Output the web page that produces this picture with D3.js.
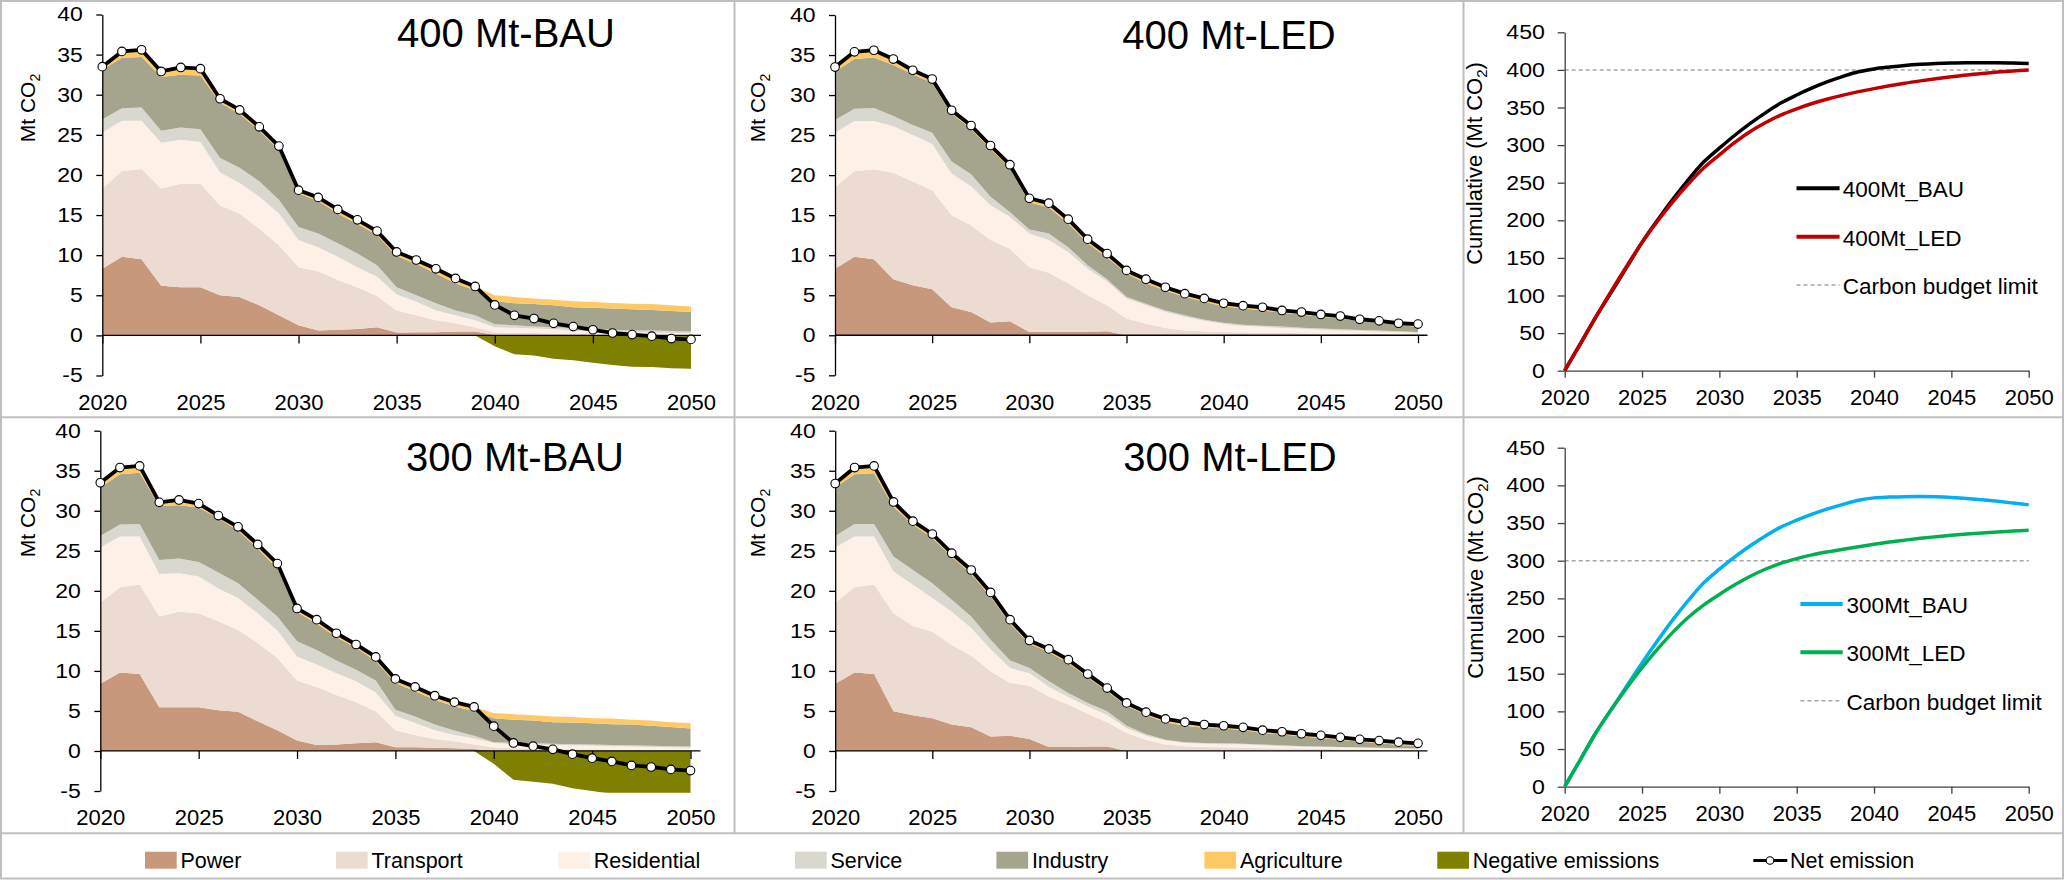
<!DOCTYPE html>
<html><head><meta charset="utf-8">
<script src="https://cdn.jsdelivr.net/npm/d3@7"></script>
<style>
body{margin:0;background:#fff}
svg{display:block;font-family:"Liberation Sans",Arial,sans-serif}
</style></head>
<body><svg id="c" width="2064" height="880"></svg>
<script>
// ---------------- data ----------------
const years = [2020,2021,2022,2023,2024,2025,2026,2027,2028,2029,2030,2031,2032,2033,2034,2035,2036,2037,2038,2039,2040,2041,2042,2043,2044,2045,2046,2047,2048,2049,2050];
const xTickYears = [2020,2025,2030,2035,2040,2045,2050];
const leftYTicks = [-5,0,5,10,15,20,25,30,35,40];
const rightYTicks = [0,50,100,150,200,250,300,350,400,450];
const sectors = ["Power","Transport","Residential","Service","Industry","Agriculture"];
const legendLabels = ["Power","Transport","Residential","Service","Industry","Agriculture","Negative emissions","Net emission"];
const panelTitles = ["400 Mt-BAU","400 Mt-LED","300 Mt-BAU","300 Mt-LED"];
const cumLabels = ["400Mt_BAU","400Mt_LED","300Mt_BAU","300Mt_LED"];
const budgetLabel = "Carbon budget limit";
const budgets = [400,300];

const bau400Power = [8.3,9.8,9.5,6.2,6.0, 6.0,5.0,4.8,3.75,2.5, 1.25,0.6,0.7,0.8,1.0, 0.35,0.4,0.4,0.5,0.5, 0.05,0,0,0,0, 0,0,0,0,0, 0];
const bau400Transport = [10.0,10.7,11.25,12.1,12.9, 12.9,11.2,10.4,9.55,8.75, 7.25,7.4,6.2,5.2,3.9, 2.75,2.1,1.5,1.0,0.5, 0.35,0.3,0.3,0.25,0.2, 0.15,0.1,0.1,0.05,0.05, 0.05];
const bau400Residential = [7.0,6.25,6.0,5.7,5.5, 5.2,4.1,3.8,4.0,3.95, 3.4,3.0,2.9,2.5,2.4, 2.0,1.7,1.2,1.0,0.9, 0.6,0.65,0.55,0.5,0.4, 0.35,0.35,0.3,0.3,0.25, 0.25];
const bau400Service = [1.6,1.55,1.65,1.5,1.5, 1.6,1.8,1.9,1.9,1.7, 1.6,1.7,1.7,1.7,1.45, 0.9,0.8,0.9,0.6,0.6, 0.4,0.3,0.25,0.25,0.3, 0.3,0.25,0.2,0.25,0.25, 0.2];
const bau400Industry = [6.2,6.3,6.3,6.7,6.6, 6.7,6.9,6.7,6.3,6.2, 4.2,4.05,3.7,3.7,3.75, 3.9,3.9,3.7,3.4,3.1, 2.85,2.75,2.8,2.75,2.6, 2.65,2.65,2.65,2.55,2.5, 2.4];
const bau400Agriculture = [0.4,0.8,0.9,0.7,0.9, 0.85,0.5,0.5,0.5,0.5, 0.4,0.45,0.5,0.5,0.5, 0.5,0.5,0.6,0.6,0.5, 0.75,0.8,0.7,0.7,0.75, 0.7,0.7,0.7,0.75,0.7, 0.7];
const bau400Negative = [0,0,0,0,0, 0,0,0,0,0, 0,0,0,0,0, 0,0,0,0,0, -1.35,-2.35,-2.5,-2.9,-3.1, -3.4,-3.7,-3.9,-3.95,-4.1, -4.15];
const bau400Net = [33.5,35.4,35.6,32.9,33.4, 33.25,29.5,28.1,26.0,23.6, 18.1,17.2,15.7,14.4,13.0, 10.4,9.4,8.3,7.1,6.1, 3.8,2.5,2.1,1.5,1.1, 0.7,0.3,0.1,-0.1,-0.4, -0.5];

const led400Power = [8.3,9.8,9.5,7.0,6.25, 5.75,3.5,2.9,1.6,1.75, 0.4,0.4,0.4,0.45,0.5, 0,0,0,0,0, 0,0,0,0,0, 0,0,0,0,0, 0];
const led400Transport = [10.2,10.7,11.25,13.3,12.95, 12.35,11.5,10.85,10.3,9.05, 8.1,7.4,6.1,4.55,3.25, 2.1,1.45,0.9,0.6,0.5, 0.4,0.35,0.3,0.3,0.25, 0.2,0.2,0.15,0.15,0.1, 0.1];
const led400Residential = [6.8,6.25,6.0,5.8,5.8, 5.8,5.2,4.85,4.35,4.0, 4.2,4.1,3.9,3.3,2.95, 2.5,2.3,2.0,1.7,1.3, 1.0,0.8,0.75,0.6,0.55, 0.5,0.4,0.4,0.3,0.3, 0.2];
const led400Service = [1.6,1.55,1.65,1.3,1.25, 1.4,1.5,1.5,1.05,0.6, 0.5,0.8,0.6,0.45,0.3, 0.2,0.2,0.2,0.2,0.15, 0.15,0.15,0.15,0.2,0.15, 0.15,0.15,0.1,0.15,0.1, 0.1];
const led400Industry = [6.0,6.2,6.3,6.35,6.35, 6.2,6.0,5.7,5.95,5.5, 3.4,3.25,2.95,2.75,2.7, 2.9,2.55,2.5,2.3,2.25, 2.05,2.05,1.9,1.7,1.65, 1.45,1.35,1.15,0.95,0.75, 0.65];
const led400Agriculture = [0.6,0.9,0.9,0.75,0.5, 0.5,0.4,0.4,0.45,0.4, 0.5,0.55,0.55,0.5,0.5, 0.4,0.45,0.4,0.4,0.4, 0.4,0.35,0.4,0.3,0.3, 0.3,0.3,0.25,0.25,0.25, 0.3];
const led400Negative = [0,0,0,0,0, 0,0,0,0,0, 0,0,0,0,0, 0,0,0,0,0, 0,0,0,0,0, 0,0,0,0,0, 0];
const led400Net = [33.5,35.4,35.6,34.5,33.1, 32.0,28.1,26.2,23.7,21.3, 17.1,16.5,14.5,12.0,10.2, 8.1,7.0,6.0,5.2,4.6, 4.0,3.7,3.5,3.1,2.9, 2.6,2.4,2.0,1.8,1.5, 1.4];

const bau300Power = [8.4,9.8,9.6,5.45,5.45, 5.45,5.1,4.9,3.7,2.6, 1.3,0.75,0.8,0.95,1.1, 0.45,0.45,0.4,0.35,0.25, 0,0,0,0,0, 0,0,0,0,0, 0];
const bau300Transport = [10.15,10.65,11.2,11.35,11.95, 11.75,11.1,10.2,9.8,9.0, 7.5,7.25,6.2,5.15,3.85, 2.15,1.55,1.1,0.85,0.55, 0.45,0.35,0.3,0.25,0.2, 0.2,0.15,0.15,0.1,0.1, 0.05];
const bau300Residential = [6.85,6.35,6.0,5.3,4.8, 4.6,4.1,4.0,3.7,3.45, 3.0,2.8,2.7,2.6,2.35, 1.8,1.5,1.1,0.8,0.75, 0.55,0.5,0.5,0.5,0.5, 0.45,0.45,0.4,0.4,0.35, 0.35];
const bau300Service = [1.45,1.5,1.55,1.75,1.85, 1.8,2.0,1.85,1.7,1.75, 1.9,1.8,1.6,1.45,1.5, 0.75,0.8,0.7,0.55,0.35, 0.1,0.15,0.15,0.15,0.15, 0.15,0.15,0.15,0.15,0.15, 0.15];
const bau300Industry = [6.05,6.25,6.4,6.75,6.65, 6.8,6.75,6.55,6.4,6.0, 3.65,3.3,2.9,2.75,2.45, 3.35,3.15,3.1,3.0,3.1, 3.0,2.9,2.85,2.7,2.7, 2.65,2.6,2.6,2.5,2.4, 2.25];
const bau300Agriculture = [0.6,0.85,0.85,0.45,0.65, 0.5,0.35,0.5,0.5,0.6, 0.45,0.5,0.5,0.4,0.5, 0.5,0.55,0.5,0.55,0.5, 0.65,0.7,0.65,0.7,0.7, 0.65,0.7,0.6,0.65,0.6, 0.7];
const bau300Negative = [0,0,0,0,0, 0,0,0,0,0, 0,0,0,0,0, 0,0,0,0,0, -1.6,-3.6,-3.85,-4.1,-4.65, -5.0,-5.35,-5.7,-5.8,-5.9, -5.95];
const bau300Net = [33.5,35.4,35.6,31.05,31.35, 30.9,29.4,28.0,25.8,23.4, 17.8,16.4,14.7,13.3,11.75, 9.0,8.0,6.9,6.1,5.5, 3.1,1.0,0.6,0.2,-0.4, -0.9,-1.3,-1.8,-2.0,-2.3, -2.45];

const led300Power = [8.4,9.8,9.6,4.95,4.45, 4.1,3.3,2.95,1.8,1.9, 1.5,0.5,0.5,0.55,0.55, 0,0,0,0,0, 0,0,0,0,0, 0,0,0,0,0, 0];
const led300Transport = [10.15,10.65,11.2,12.25,11.15, 10.8,9.95,8.95,8.15,6.6, 6.65,6.3,5.3,4.1,3.05, 2.25,1.4,0.8,0.6,0.5, 0.45,0.4,0.35,0.3,0.3, 0.25,0.2,0.2,0.15,0.1, 0.1];
const led300Residential = [6.85,6.35,6.0,5.2,5.15, 4.2,4.15,3.45,2.75,1.85, 1.55,1.2,0.95,0.9,0.9, 0.6,0.5,0.5,0.4,0.4, 0.4,0.4,0.35,0.3,0.25, 0.25,0.25,0.2,0.2,0.2, 0.2];
const led300Service = [1.45,1.55,1.55,1.9,1.85, 1.85,1.5,1.45,1.2,0.95, 0.65,0.7,0.5,0.45,0.45, 0.3,0.2,0.1,0.1,0.1, 0.1,0.1,0.1,0.1,0.05, 0.05,0.05,0.05,0.05,0.05, 0];
const led300Industry = [6.05,6.2,6.35,6.2,5.65, 5.65,5.4,5.3,5.4,4.6, 3.05,3.65,3.75,3.2,2.5, 2.5,2.4,2.2,2.05,1.9, 1.85,1.7,1.45,1.35,1.25, 1.05,0.9,0.7,0.6,0.4, 0.3];
const led300Agriculture = [0.5,0.85,0.9,0.6,0.45, 0.5,0.4,0.5,0.5,0.5, 0.4,0.4,0.4,0.4,0.4, 0.35,0.35,0.4,0.45,0.4, 0.35,0.35,0.35,0.35,0.3, 0.35,0.3,0.3,0.3,0.35, 0.35];
const led300Negative = [0,0,0,0,0, 0,0,0,0,0, 0,0,0,0,0, 0,0,0,0,0, 0,0,0,0,0, 0,0,0,0,0, 0];
const led300Net = [33.4,35.4,35.6,31.1,28.7, 27.1,24.7,22.6,19.8,16.4, 13.8,12.75,11.4,9.6,7.85, 6.0,4.85,4.0,3.6,3.3, 3.15,2.95,2.6,2.4,2.15, 1.95,1.7,1.45,1.3,1.1, 0.95];

const cumBau400 = [0,35.4,71.0,103.9,137.3, 170.6,200.1,228.2,254.2,277.8, 295.9,313.1,328.8,343.2,356.2, 366.6,376.0,384.3,391.4,397.5, 401.3,403.8,405.9,407.4,408.5, 409.2,409.5,409.6,409.5,409.1, 408.6];
const cumLed400 = [0,35.4,71.0,105.5,138.6, 170.6,198.7,224.9,248.6,269.9, 287.0,303.5,318.0,330.0,340.2, 348.3,355.3,361.3,366.5,371.1, 375.1,378.8,382.3,385.4,388.3, 390.9,393.3,395.3,397.1,398.6, 400.0];
const cumBau300 = [0,35.4,71.0,102.1,133.4, 164.3,193.7,221.7,247.5,270.9, 288.7,305.1,319.8,333.1,344.9, 353.8,361.8,368.7,374.8,380.3, 383.4,384.4,385.0,385.2,384.8, 383.9,382.6,380.8,378.8,376.5, 374.1];
const cumLed300 = [0,35.4,71.0,102.1,130.8, 157.9,182.6,205.2,225.0,241.4, 255.2,268.0,279.4,289.0,296.8, 302.8,307.7,311.7,315.3,318.6, 321.7,324.7,327.3,329.7,331.8, 333.8,335.5,336.9,338.2,339.3, 340.3];

// ---------------- styles ----------------
const sectorColors = ["#C8987C","#EBDBD1","#FDF0E6","#D9D8CF","#A5A58D","#FFC966"];
const negColor = "#7F7F00";
const cumColors = ["#000000","#C00000","#00B0F0","#00B050"];
const frameColor = "#BFBFBF";

const svg = d3.select("#c");

// stretch tick labels horizontally (the reference's tick text is wider than tall)
function stretchText(sel, factor) {
  sel.each(function () {
    const w = this.getComputedTextLength();
    d3.select(this).attr("textLength", w * factor).attr("lengthAdjust", "spacingAndGlyphs");
  });
}

// ---------------- frame ----------------
const frame = svg.append("g").attr("stroke", frameColor).attr("stroke-width", 2).attr("fill", "none");
frame.append("rect").attr("x", 1).attr("y", 1).attr("width", 2062).attr("height", 877.5);
frame.append("line").attr("x1", 0).attr("x2", 2064).attr("y1", 417.3).attr("y2", 417.3);
frame.append("line").attr("x1", 0).attr("x2", 2064).attr("y1", 833.3).attr("y2", 833.3);
[734.5, 1463.5].forEach(xv => frame.append("line").attr("x1", xv).attr("x2", xv).attr("y1", 0).attr("y2", 833.3));

// ---------------- stacked panels ----------------
const stackScenarios = [
  {power: bau400Power, transport: bau400Transport, residential: bau400Residential, service: bau400Service, industry: bau400Industry, agriculture: bau400Agriculture, negative: bau400Negative, net: bau400Net},
  {power: led400Power, transport: led400Transport, residential: led400Residential, service: led400Service, industry: led400Industry, agriculture: led400Agriculture, negative: led400Negative, net: led400Net},
  {power: bau300Power, transport: bau300Transport, residential: bau300Residential, service: bau300Service, industry: bau300Industry, agriculture: bau300Agriculture, negative: bau300Negative, net: bau300Net},
  {power: led300Power, transport: led300Transport, residential: led300Residential, service: led300Service, industry: led300Industry, agriculture: led300Agriculture, negative: led300Negative, net: led300Net}
];
const stackLayout = [
  {x0: 102.3, x1: 691, xEnd: 701, yT: 14.5, yB: 375.5, tx: 506, ty: 46.5, xl: 410.2, lx: 35.4, ly: 108},
  {x0: 835, x1: 1418, xEnd: 1427.5, yT: 15, yB: 375.3, tx: 1229, ty: 48.5, xl: 410.2, lx: 765.4, ly: 108},
  {x0: 100.3, x1: 690.5, xEnd: 700.5, yT: 430.7, yB: 791, tx: 515, ty: 471, xl: 824.6, lx: 35.4, ly: 523},
  {x0: 835.2, x1: 1418, xEnd: 1427.5, yT: 430.7, yB: 791, tx: 1230, ty: 471, xl: 824.6, lx: 765.4, ly: 523}
];

stackScenarios.forEach((s, pi) => {
  const L = stackLayout[pi];
  const g = svg.append("g");
  const x = d3.scaleLinear().domain([2020, 2050]).range([L.x0, L.x1]);
  const y = d3.scaleLinear().domain([-5, 40]).range([L.yB, L.yT]);
  const rows = years.map((yr, i) => ({
    year: yr, Power: s.power[i], Transport: s.transport[i], Residential: s.residential[i],
    Service: s.service[i], Industry: s.industry[i], Agriculture: s.agriculture[i],
    neg: s.negative[i], net: s.net[i]
  }));
  const series = d3.stack().keys(sectors)(rows);
  const clipId = "clip" + pi;
  svg.append("clipPath").attr("id", clipId).append("rect")
    .attr("x", L.x0).attr("y", L.yT - 6).attr("width", L.x1 - L.x0 + 1).attr("height", L.yB + 1.8 - (L.yT - 6));
  const ga = g.append("g").attr("clip-path", `url(#${clipId})`);
  const area = d3.area().x(d => x(d.data.year)).y0(d => y(d[0])).y1(d => y(d[1]));
  ga.selectAll("path.layer").data(series).join("path").attr("class", "layer")
    .attr("fill", (d, i) => sectorColors[i]).attr("d", area);
  ga.append("path").datum(rows).attr("fill", negColor)
    .attr("d", d3.area().x(d => x(d.year)).y0(y(0)).y1(d => y(d.neg)));

  // y axis
  const ya = g.append("g").attr("transform", `translate(${L.x0},0)`)
    .call(d3.axisLeft(y).tickValues(leftYTicks).tickSize(6).tickSizeOuter(0).tickPadding(13.5).tickFormat(d => String(d)));
  ya.selectAll("path,line").attr("stroke", "#000").attr("stroke-width", 1.3);
  ya.selectAll("text").attr("font-size", 20).attr("fill", "#000").attr("font-family", null);
  stretchText(ya.selectAll("text"), 1.15);

  // x axis line at zero + ticks
  g.append("line").attr("x1", L.x0).attr("x2", L.xEnd).attr("y1", y(0)).attr("y2", y(0))
    .attr("stroke", "#000").attr("stroke-width", 1.3);
  const xt = g.append("g").attr("transform", `translate(0,${y(0)})`)
    .call(d3.axisBottom(x).tickValues(xTickYears).tickSize(8).tickFormat(""));
  xt.select(".domain").remove();
  xt.selectAll("line").attr("stroke", "#000").attr("stroke-width", 1.3);
  const xl = g.append("g").attr("transform", `translate(0,${L.xl})`)
    .call(d3.axisBottom(x).tickValues(xTickYears).tickSize(0).tickPadding(0).tickFormat(d => String(d)));
  xl.select(".domain").remove();
  xl.selectAll("text").attr("y", 0).attr("dy", 0).attr("font-size", 22).attr("fill", "#000").attr("font-family", null);

  // net emission line
  g.append("path").datum(rows).attr("fill", "none").attr("stroke", "#000").attr("stroke-width", 3.8)
    .attr("stroke-linejoin", "round")
    .attr("d", d3.line().x(d => x(d.year)).y(d => y(d.net)));
  g.selectAll("circle.net").data(rows).join("circle").attr("class", "net")
    .attr("cx", d => x(d.year)).attr("cy", d => y(d.net)).attr("r", 4.3)
    .attr("fill", "#fff").attr("stroke", "#000").attr("stroke-width", 1.1);

  // title
  g.append("text").attr("x", L.tx).attr("y", L.ty).attr("text-anchor", "middle")
    .attr("font-size", 40).attr("fill", "#000").text(panelTitles[pi]);
  // y label
  const t = g.append("text").attr("transform", `translate(${L.lx},${L.ly}) rotate(-90)`)
    .attr("text-anchor", "middle").attr("font-size", 21).attr("fill", "#000");
  t.append("tspan").text("Mt CO");
  t.append("tspan").attr("font-size", 14).attr("dy", 5).text("2");
});

// ---------------- cumulative panels ----------------
const cumSeries = [cumBau400, cumLed400, cumBau300, cumLed300];
const cumLayout = [
  {x0: 1564.7, x1: 2028.7, y0: 370.7, y450: 32.3, lx: 1482, ly: 163.5, legX0: 1796.5, legX1: 1839.6, legTx: 1842.7, legY: [188.3, 236.7, 285]},
  {x0: 1564.7, x1: 2028.7, y0: 786.7, y450: 447.7, lx: 1483, ly: 577.5, legX0: 1800.4, legX1: 1842.7, legTx: 1846.6, legY: [604, 652.3, 700.7]}
];
cumLayout.forEach((L, pi) => {
  const g = svg.append("g");
  const x = d3.scaleLinear().domain([2020, 2050]).range([L.x0, L.x1]);
  const y = d3.scaleLinear().domain([0, 450]).range([L.y0, L.y450]);
  // budget line
  g.append("line").attr("x1", L.x0).attr("x2", L.x1).attr("y1", y(budgets[pi])).attr("y2", y(budgets[pi]))
    .attr("stroke", "#A6A6A6").attr("stroke-width", 1.5).attr("stroke-dasharray", "4,3");
  // axes
  const ya = g.append("g").attr("transform", `translate(${L.x0},0)`)
    .call(d3.axisLeft(y).tickValues(rightYTicks).tickSize(7).tickSizeOuter(0).tickPadding(12.7).tickFormat(d => String(d)));
  ya.selectAll("path,line").attr("stroke", "#404040").attr("stroke-width", 1.3);
  ya.selectAll("text").attr("font-size", 20.5).attr("fill", "#000").attr("font-family", null);
  stretchText(ya.selectAll("text"), 1.13);
  const xa = g.append("g").attr("transform", `translate(0,${L.y0})`)
    .call(d3.axisBottom(x).tickValues(xTickYears).tickSize(7).tickSizeOuter(0).tickFormat(d => String(d)));
  xa.selectAll("path,line").attr("stroke", "#404040").attr("stroke-width", 1.3);
  xa.selectAll("text").attr("y", 34.3).attr("dy", 0).attr("font-size", 22).attr("fill", "#000").attr("font-family", null);
  // lines
  const line = d3.line().x((d, i) => x(years[i])).y(d => y(d)).curve(d3.curveCatmullRom.alpha(0.5));
  [0, 1].forEach(k => {
    const idx = pi * 2 + k;
    g.append("path").datum(cumSeries[idx]).attr("fill", "none").attr("stroke", cumColors[idx])
      .attr("stroke-width", 3.5).attr("stroke-linejoin", "round").attr("d", line);
  });
  // y label
  const t = g.append("text").attr("transform", `translate(${L.lx},${L.ly}) rotate(-90)`)
    .attr("text-anchor", "middle").attr("font-size", 22).attr("fill", "#000");
  t.append("tspan").text("Cumulative (Mt CO");
  t.append("tspan").attr("font-size", 15).attr("dy", 5).text("2");
  t.append("tspan").attr("dy", -5).text(")");
  // legend
  [0, 1, 2].forEach(k => {
    const ly = L.legY[k];
    const ln = g.append("line").attr("x1", L.legX0).attr("x2", L.legX1).attr("y1", ly).attr("y2", ly);
    if (k < 2) ln.attr("stroke", cumColors[pi * 2 + k]).attr("stroke-width", 4);
    else ln.attr("stroke", "#A6A6A6").attr("stroke-width", 1.5).attr("stroke-dasharray", "4,3");
    g.append("text").attr("x", L.legTx).attr("y", ly + 9).attr("font-size", 22.5).attr("fill", "#000")
      .text(k < 2 ? cumLabels[pi * 2 + k] : budgetLabel);
  });
});

// ---------------- bottom legend ----------------
const legendSwatchX = [145, 336, 558.3, 795, 996.4, 1204.4, 1437.3];
const legendColors = sectorColors.concat([negColor]);
const lg = svg.append("g");
legendSwatchX.forEach((lx, i) => {
  lg.append("rect").attr("x", lx).attr("y", 851.7).attr("width", 31.7).attr("height", 17).attr("fill", legendColors[i]);
  lg.append("text").attr("x", lx + 35.5).attr("y", 867.7).attr("font-size", 21.5).attr("fill", "#000").text(legendLabels[i]);
});
lg.append("line").attr("x1", 1753.3).attr("x2", 1787.3).attr("y1", 860.5).attr("y2", 860.5).attr("stroke", "#000").attr("stroke-width", 3);
lg.append("circle").attr("cx", 1770).attr("cy", 860.5).attr("r", 3.8).attr("fill", "#fff").attr("stroke", "#000").attr("stroke-width", 1.1);
lg.append("text").attr("x", 1790).attr("y", 867.7).attr("font-size", 21.5).attr("fill", "#000").text(legendLabels[7]);
</script>
</body></html>
